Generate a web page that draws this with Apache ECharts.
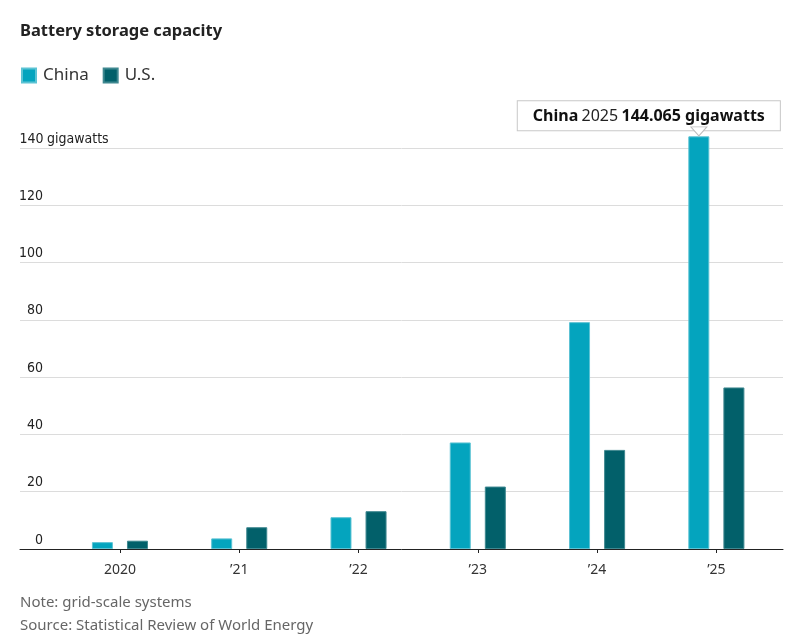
<!DOCTYPE html>
<html>
<head>
<meta charset="utf-8">
<script src="https://cdn.jsdelivr.net/npm/echarts@6/dist/echarts.min.js"></script>
<style>
html,body{margin:0;padding:0;background:#fff;}
#c{width:799px;height:639px;}
</style>
</head>
<body>
<div id="c"></div>
<script>
const categories = ['2020', '\u201921', '\u201922', '\u201923', '\u201924', '\u201925'];
const years = ['2020', '2021', '2022', '2023', '2024', '2025'];
const chinaValues = [2.4, 3.7, 11.1, 37.2, 79.2, 144.065];
const usValues = [2.9, 7.6, 13.2, 21.8, 34.6, 56.4];
const yTicks = [0, 20, 40, 60, 80, 100, 120, 140];
const unit = 'gigawatts';
const title = 'Battery storage capacity';
const note = 'Note: grid-scale systems';
const source = 'Source: Statistical Review of World Energy';
const highlightIndex = 5;

const FONT = "'Noto Sans', sans-serif";
const NARROW = "'Liberation Sans Narrow', 'DejaVu Sans Condensed', sans-serif";
const CHINA = '#04a4be';
const US = '#02606a';

const chart = echarts.init(document.getElementById('c'), null, {renderer: 'canvas'});
const yMin = yTicks[0], yMax = yTicks[yTicks.length - 1], yStep = yTicks[1] - yTicks[0];

const chinaData = chinaValues.map((v, i) => i !== highlightIndex ? v : {
  value: v,
  label: {
    show: true, position: 'top', distance: 6, offset: [-50, 0],
    backgroundColor: '#fff', borderColor: '#c8c8c8', borderWidth: 1,
    padding: [7, 15, 6, 15],
    formatter: '{b|China} {r|' + years[i] + '} {b|' + v + ' ' + unit + '}',
    rich: {
      b: {fontFamily: FONT, fontSize: 16, fontWeight: 'bold', color: '#111'},
      r: {fontFamily: FONT, fontSize: 16, color: '#222'}
    }
  }
});

chart.setOption({
  animation: false,
  title: [
    {text: title, left: 15, top: 18, textStyle: {fontFamily: FONT, fontSize: 16.5, fontWeight: 'bold', color: '#222'}},
    {text: note, left: 15, top: 590, textStyle: {fontFamily: FONT, fontSize: 15, fontWeight: 'normal', color: '#666'}},
    {text: source, left: 15, top: 613, textStyle: {fontFamily: FONT, fontSize: 15, fontWeight: 'normal', color: '#666'}}
  ],
  legend: {
    left: 16, top: 62, itemWidth: 14, itemHeight: 14, itemGap: 14,
    icon: 'rect',
    textStyle: {fontFamily: FONT, fontSize: 17, color: '#333', padding: [0, 0, 0, 2]},
    data: ['China', 'U.S.']
  },
  grid: [
    {left: 20, right: 16, top: 148, bottom: 90},
    {left: 60.3, right: 23, top: 148, bottom: 90}
  ],
  xAxis: [
    {gridIndex: 0, type: 'value', min: 0, max: 1, axisLine: {show: true, onZero: false, lineStyle: {color: '#222', width: 1}},
     axisTick: {show: false}, axisLabel: {show: false}, splitLine: {show: false}},
    {gridIndex: 1, type: 'category', data: categories,
     axisLine: {show: false}, axisTick: {show: true, alignWithLabel: true, length: 4, lineStyle: {color: '#222'}},
     axisLabel: {fontFamily: FONT, fontSize: 14, color: '#333', margin: 14}}
  ],
  yAxis: [
    {gridIndex: 0, type: 'value', min: yMin, max: yMax, interval: yStep,
     axisLine: {show: false}, axisTick: {show: false},
     splitLine: {show: true, lineStyle: {color: '#dcdcdc', width: 1}},
     axisLabel: {
       inside: true, margin: 0, align: 'left', verticalAlign: 'bottom', padding: [0, 0, 2, 0],
       fontFamily: NARROW, fontSize: 14, color: '#222',
       formatter: v => v === yMax ? '{n|' + v + '} ' + unit : '{n|' + v + '}',
       rich: {n: {width: 23, align: 'right', fontFamily: NARROW, fontSize: 14, color: '#222'}}
     }},
    {gridIndex: 1, type: 'value', min: yMin, max: yMax, interval: yStep, show: false},
    {gridIndex: 1, type: 'value', min: yMin, max: yMax, interval: yStep, show: false}
  ],
  series: [
    {
      name: 'China', type: 'bar', xAxisIndex: 1, yAxisIndex: 1, data: chinaData,
      barWidth: 21, barGap: '67%', clip: false, z: 2,
      itemStyle: {color: CHINA, borderColor: '#5cc3d4', borderWidth: 1}
    },
    {
      name: 'U.S.', type: 'bar', xAxisIndex: 1, yAxisIndex: 1, data: usValues,
      barWidth: 21, barGap: '67%', clip: false, z: 2,
      itemStyle: {color: US, borderColor: '#3f8890', borderWidth: 1}
    },
    {
      name: 'pointer', type: 'scatter', xAxisIndex: 1, yAxisIndex: 2, clip: false, z: 5,
      silent: true, legendHoverLink: false,
      data: [[categories[highlightIndex], chinaValues[highlightIndex]]],
      symbol: 'triangle', symbolRotate: 180, symbolSize: [16, 9], symbolOffset: [-17.5, -5],
      itemStyle: {color: '#fff', borderColor: '#bdbdbd', borderWidth: 1, opacity: 1}
    }
  ]
});
</script>
</body>
</html>
